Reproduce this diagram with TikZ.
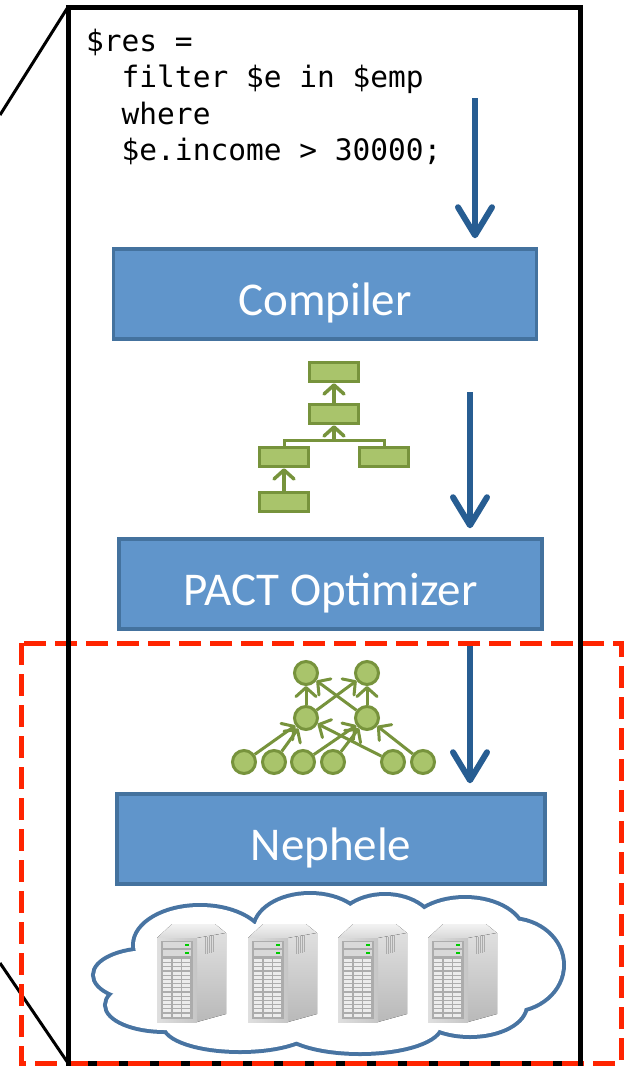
\documentclass[tikz,border=0pt]{standalone}
\usepackage{fontspec}
\setmainfont{Carlito}
\newfontfamily\querymono{DejaVu Sans Mono}
\usetikzlibrary{arrows.meta,positioning}

\definecolor{stagefill}{RGB}{96,149,203}
\definecolor{stageline}{RGB}{68,114,158}
\definecolor{flowblue}{RGB}{39,93,146}
\definecolor{planfill}{RGB}{169,196,107}
\definecolor{planline}{RGB}{119,147,60}
\definecolor{cloudline}{RGB}{72,116,162}
\definecolor{scopered}{RGB}{255,36,0}

\tikzset{
  stage/.style={draw=stageline,line width=3.5pt,fill=stagefill,text=white,
    minimum width=423pt,minimum height=90pt,text height=42pt,text depth=0pt,
    font=\fontsize{47}{50}\selectfont},
  flow/.style={draw=flowblue,line width=6pt,shorten >=9pt,
    -{Straight Barb[length=28pt,width=34pt,round]}},
  planbox/.style={draw=planline,fill=planfill,line width=3.5pt,
    minimum width=49pt,minimum height=19pt,inner sep=0pt},
  vertex/.style={circle,draw=planline,fill=planfill,line width=3pt,
    minimum size=23pt,inner sep=0pt},
  feed/.style={draw=planline,line width=3.5pt,
    -{Straight Barb[length=9pt,width=20pt,round]}},
  tower/.pic={
    \fill[top color=gray!10,bottom color=gray!30] (0,0) -- (15,-14) -- (58,-14) -- (69,-5) -- (40,0) -- cycle;
    \fill[top color=gray!25,bottom color=gray!55] (40,0) -- (69,-5) -- (69,76) -- (40,84) -- cycle;
    \fill[left color=gray!25,right color=gray!45] (0,0) rectangle (40,84);
    \fill[gray!65] (4,3) rectangle (36,81);
    \foreach \s in {4,12}
      \fill[gray!30] (6,\s) rectangle (34,\s+6);
    \foreach \s in {7,15}
      \fill[green!80!black] (28,\s-1) rectangle (32,\s+1);
    \foreach \c in {0,1,2}
      \foreach \r in {0,...,13}
        \fill[gray!15] (6+9.6*\c,21+4.2*\r) rectangle (6+9.6*\c+8,21+4.2*\r+3);
    \foreach \v in {0,...,4}
      \draw[gray!65,line width=1pt] (48+2.2*\v,-1-\v*0.4) -- (48+2.2*\v,16-\v*0.4);
  }
}

\begin{document}
\begin{tikzpicture}[x=1pt,y=-1pt]
\clip (0,0) rectangle (624,1066);
\fill[white] (0,0) rectangle (624,1066);

\node[anchor=north west,inner sep=0pt,align=left,
  font=\querymono\fontsize{29.5}{36.3}\selectfont] (query) at (86,29)
  {\$res =\\\phantom{xx}filter \$e in \$emp\\\phantom{xx}where\\\phantom{xx}\$e.income > 30000;};

\node[stage] (compiler) at (325,294) {Compiler};
\node[stage] (optimizer) at (330.5,584) {PACT Optimizer};
\node[stage,minimum width=428pt] (nephele) at (331,839) {Nephele};

\coordinate (qtail) at (475,98);
\coordinate (ctail) at (470,392);
\coordinate (otail) at (470,645);
\draw[flow] (qtail) -- (qtail |- compiler.north);
\draw[flow] (ctail) -- (ctail |- optimizer.north);
\draw[flow] (otail) -- (otail |- nephele.north);

\node[planbox] (root) at (334,372) {};
\node[planbox] (filter) at (334,414) {};
\node[planbox] (left) at (284,457) {};
\node[planbox] (right) at (384,457) {};
\node[planbox] (scan) at (284,502) {};
\coordinate (fork) at (334,440);
\draw[planline,line width=3pt] (left.north) |- (fork) -| (right.north);
\draw[feed] (fork) -- (filter.south);
\draw[feed] (filter.north) -- (root.south);
\draw[feed] (scan.north) -- (left.south);

\foreach \n/\x/\y in {tl/306/673,tr/367/673,ml/306/718,mr/367/718,
  b1/244/762,b2/274/762,b3/303/762,b4/333/762,b5/393/762,b6/423/762}
  \node[vertex] (\n) at (\x,\y) {};
\foreach \a/\b in {ml/tl,ml/tr,mr/tr,mr/tl,b1/ml,b2/ml,b5/ml,b3/mr,b4/mr,b6/mr}
  \draw[feed,line width=3pt] (\a) -- (\b);

\def\puffs{150/975/55/25,165/1005/58/25,200/945/65/38,310/930/55/35,
  385/932/50/36,465/935/58/36,510/965/52/45,470/1005/55/30,
  240/1025/75/25,360/1025/80/27,330/975/200/55}
\foreach \x/\y/\a/\b in \puffs
  \draw[cloudline,line width=8pt] (\x,\y) ellipse ({\a} and {\b});
\foreach \x/\y/\a/\b in \puffs
  \fill[white] (\x,\y) ellipse ({\a} and {\b});
\foreach \x in {157,248,338,428}
  \pic at (\x,938) {tower};

\draw[line width=3pt] (0,115) -- (68,7);
\draw[line width=3pt] (0,963) -- (68,1063);
\draw[line width=5pt] (68,1063) -- (580,1063);
\draw[scopered,line width=5pt,dash pattern=on 22pt off 9pt] (21,643) rectangle (621,1063);
\draw[line width=5pt] (68,1066) -- (68,7) -- (580,7) -- (580,1066);
\end{tikzpicture}
\end{document}
